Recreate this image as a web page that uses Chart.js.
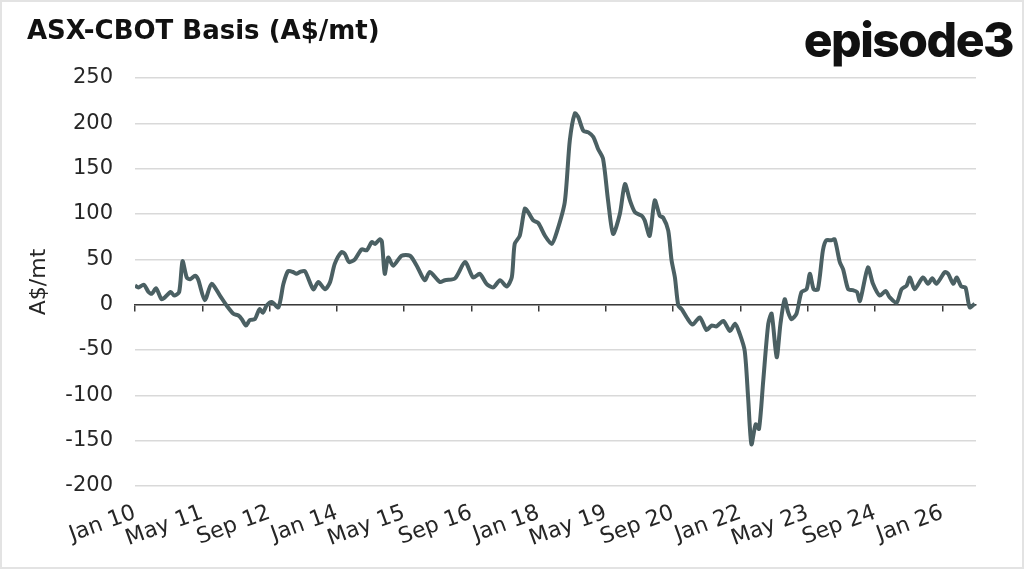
<!DOCTYPE html>
<html>
<head>
<meta charset="utf-8">
<title>ASX-CBOT Basis</title>
<script src="https://cdn.jsdelivr.net/npm/chart.js@4.4.1/dist/chart.umd.min.js"></script>
<style>
  html, body { margin: 0; padding: 0; background: #fff; }
  #wrap { position: relative; width: 1024px; height: 569px; overflow: hidden; font-family: "DejaVu Sans", sans-serif; }
  #frame { position: absolute; left: 0; top: 0; width: 1024px; height: 569px; box-sizing: border-box; border: 2px solid #e3e3e3; pointer-events: none; }
  #title { position: absolute; left: 27px; top: 17px; font-size: 26px; line-height: 26px; font-weight: 700; color: #111; white-space: nowrap; }
  #logo { position: absolute; right: 11px; top: 16px; font-family: Inter, sans-serif; font-size: 48px; line-height: 48px; font-weight: 800; letter-spacing: -1.5px; color: #111; }
  #chartBox { position: absolute; left: 0; top: 0; width: 1024px; height: 569px; }
</style>
</head>
<body>
<div id="wrap">
  <div id="chartBox"><canvas id="basisChart"></canvas></div>
  <div id="title">ASX-CBOT Basis (A$/mt)</div>
  <div id="logo">episode3</div>
  <div id="frame"></div>
</div>
<script>
// x axis labels, one every 16 months starting Jan 2010
const tickLabels = ["Jan 10", "May 11", "Sep 12", "Jan 14", "May 15", "Sep 16", "Jan 18",
  "May 19", "Sep 20", "Jan 22", "May 23", "Sep 24", "Jan 26"];

// months since Jan 2010
const months = [0.0, 0.8, 2.1, 3.2, 4.0, 5.0, 6.3, 7.1, 8.5, 9.3, 10.5, 11.3, 12.3, 13.1, 14.3, 15.0,
  16.6, 18.2, 20.2, 21.8, 23.4, 24.6, 25.4, 26.4, 27.3, 28.5, 29.6, 30.4, 31.3, 32.5, 34.1, 35.3,
  36.4, 37.6, 38.4, 39.2, 40.4, 42.4, 43.6, 45.2, 46.4, 47.5, 49.1, 49.9, 50.9, 52.3, 53.9, 55.1,
  56.3, 57.1, 58.2, 58.7, 59.4, 60.2, 61.4, 63.4, 65.4, 67.0, 68.9, 70.1, 72.5, 73.7, 76.1, 78.5,
  80.4, 82.0, 83.6, 85.2, 86.8, 88.4, 89.6, 90.3, 91.5, 92.7, 93.5, 94.7, 95.9, 97.5, 99.1, 100.3,
  102.2, 103.4, 104.6, 105.4, 106.6, 107.8, 109.0, 110.1, 111.3, 112.5, 113.7, 115.3, 116.5, 117.7,
  118.9, 120.5, 121.2, 122.4, 123.6, 124.8, 125.6, 126.8, 127.6, 128.4, 129.2, 130.0, 131.2, 132.6,
  134.3, 135.9, 137.1, 138.3, 139.9, 141.5, 142.7, 143.8, 145.0, 145.8, 146.6, 147.6, 148.4, 149.4,
  150.6, 151.4, 152.6, 153.5, 154.5, 155.3, 156.1, 157.3, 158.5, 159.7, 160.5, 161.4, 162.4, 163.6,
  164.4, 165.6, 166.4, 167.6, 168.4, 169.6, 170.7, 171.7, 172.4, 174.3, 175.5, 177.1, 178.5, 179.5,
  181.1, 182.3, 183.5, 184.3, 185.4, 187.4, 188.6, 189.6, 190.6, 192.6, 193.4, 194.6, 195.4, 196.5,
  197.5, 198.5, 199.7];

// basis, A$/mt
const basis = [21, 19, 22, 14, 12, 18, 6, 8, 14, 10, 14, 48, 30, 28, 32, 28,
  5, 23, 10, -1, -10, -12, -16, -23, -17, -16, -5, -9, -1, 3, -3, 23,
  37, 36, 34, 36, 37, 17, 25, 17, 25, 45, 58, 56, 47, 50, 61, 60,
  69, 67, 72, 70, 34, 52, 43, 54, 54, 43, 27, 36, 25, 27, 29, 47,
  30, 34, 23, 19, 27, 20, 30, 67, 76, 106, 102, 93, 90, 76, 67, 80,
  113, 181, 211, 207, 192, 190, 185, 172, 161, 115, 78, 100, 133, 115,
  102, 98, 93, 76, 115, 98, 96, 82, 49, 30, -1, -5, -14, -22,
  -14, -28, -23, -24, -18, -29, -21, -32, -51, -102, -154, -132, -137, -84,
  -21, -10, -58, -21, 6, -8, -16, -10, 14, 17, 34, 17, 17, 60,
  71, 71, 72, 47, 39, 17, 16, 14, 4, 41, 23, 10, 15, 8,
  2, 17, 21, 30, 17, 30, 23, 29, 23, 36, 34, 23, 30, 20,
  19, -3, 1];

const yTicks = { min: -200, max: 250, step: 50 };
const xRange = { min: 0, max: 200, step: 16 };

const textColor = "#262626";
const gridColor = "#d9d9d9";
const lineColor = "#4b6063";
const labelFont = "DejaVu Sans";

const ctx = document.getElementById("basisChart").getContext("2d");

const basisChart = new Chart(ctx, {
  type: "line",
  data: {
    datasets: [
      {
        label: "ASX-CBOT Basis",
        data: months.map((m, i) => ({ x: m, y: basis[i] })),
        borderColor: lineColor,
        borderWidth: 4,
        pointRadius: 0,
        tension: 0.25,
        fill: false,
      },
    ],
  },
  options: {
    responsive: true,
    maintainAspectRatio: false,
    animation: false,
    layout: { padding: { left: 22, right: 48, top: 78, bottom: 0 } },
    plugins: {
      legend: { display: false },
      tooltip: { enabled: false },
    },
    scales: {
      // axis line at zero with tick marks, no labels
      x: {
        type: "linear",
        position: { y: 0 },
        min: xRange.min,
        max: xRange.max,
        ticks: { display: false, stepSize: xRange.step, includeBounds: false },
        grid: { drawOnChartArea: false, drawTicks: true, tickLength: 6, color: "#3a3a3a", lineWidth: 1.5 },
        border: { display: true, color: "#3a3a3a", width: 1.5 },
      },
      // date labels along the bottom
      xLabels: {
        type: "linear",
        position: "bottom",
        min: xRange.min,
        max: xRange.max,
        ticks: {
          stepSize: xRange.step,
          includeBounds: false,
          autoSkip: false,
          minRotation: 20,
          maxRotation: 20,
          padding: 6,
          color: textColor,
          font: { family: labelFont, size: 22 },
          callback: (v) => tickLabels[Math.round(v / xRange.step)] || "",
        },
        grid: { display: false },
        border: { display: false },
        afterFit: (scale) => { scale.height = 83; },
      },
      y: {
        min: yTicks.min,
        max: yTicks.max,
        ticks: {
          stepSize: yTicks.step,
          padding: 22,
          color: textColor,
          font: { family: labelFont, size: 21 },
        },
        grid: { color: gridColor, lineWidth: 1.5, drawTicks: false },
        border: { display: false },
        title: {
          display: true,
          text: "A$/mt",
          color: textColor,
          font: { family: labelFont, size: 22 },
          padding: { top: 4, bottom: 4 },
        },
        afterFit: (scale) => { scale.width = 113; },
      },
    },
  },
});
</script>
</body>
</html>
